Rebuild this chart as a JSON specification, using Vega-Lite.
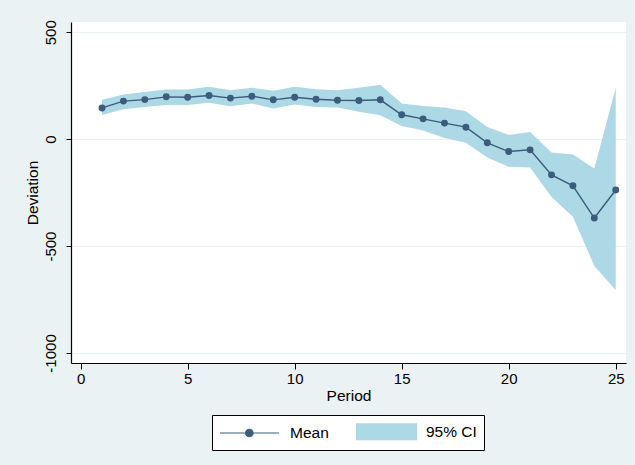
{
  "$schema": "https://vega.github.io/schema/vega-lite/v6.json",
  "width": 555,
  "height": 341,
  "autosize": {"type": "none"},
  "padding": {"left": 71, "top": 22, "right": 9, "bottom": 102},
  "background": "#EAF2F3",
  "data": {
    "values": [
      {"period": 1, "mean": 146, "lo": 113, "hi": 184, "series": "95% CI"},
      {"period": 2, "mean": 178, "lo": 140, "hi": 209, "series": "95% CI"},
      {"period": 3, "mean": 185, "lo": 151, "hi": 220, "series": "95% CI"},
      {"period": 4, "mean": 198, "lo": 160, "hi": 232, "series": "95% CI"},
      {"period": 5, "mean": 196, "lo": 160, "hi": 232, "series": "95% CI"},
      {"period": 6, "mean": 204, "lo": 170, "hi": 245, "series": "95% CI"},
      {"period": 7, "mean": 192, "lo": 154, "hi": 229, "series": "95% CI"},
      {"period": 8, "mean": 201, "lo": 167, "hi": 241, "series": "95% CI"},
      {"period": 9, "mean": 184, "lo": 143, "hi": 226, "series": "95% CI"},
      {"period": 10, "mean": 196, "lo": 162, "hi": 245, "series": "95% CI"},
      {"period": 11, "mean": 187, "lo": 151, "hi": 234, "series": "95% CI"},
      {"period": 12, "mean": 182, "lo": 148, "hi": 229, "series": "95% CI"},
      {"period": 13, "mean": 181, "lo": 128, "hi": 241, "series": "95% CI"},
      {"period": 14, "mean": 184, "lo": 112, "hi": 254, "series": "95% CI"},
      {"period": 15, "mean": 114, "lo": 62, "hi": 167, "series": "95% CI"},
      {"period": 16, "mean": 95, "lo": 40, "hi": 155, "series": "95% CI"},
      {"period": 17, "mean": 75, "lo": 6, "hi": 148, "series": "95% CI"},
      {"period": 18, "mean": 56, "lo": -17, "hi": 131, "series": "95% CI"},
      {"period": 19, "mean": -17, "lo": -86, "hi": 57, "series": "95% CI"},
      {"period": 20, "mean": -58, "lo": -129, "hi": 19, "series": "95% CI"},
      {"period": 21, "mean": -50, "lo": -132, "hi": 34, "series": "95% CI"},
      {"period": 22, "mean": -167, "lo": -270, "hi": -62, "series": "95% CI"},
      {"period": 23, "mean": -218, "lo": -363, "hi": -72, "series": "95% CI"},
      {"period": 24, "mean": -369, "lo": -593, "hi": -137, "series": "95% CI"},
      {"period": 25, "mean": -238, "lo": -706, "hi": 241, "series": "95% CI"}
    ]
  },
  "encoding": {
    "x": {
      "field": "period",
      "type": "quantitative",
      "scale": {"domain": [-0.45, 25.48], "nice": false, "zero": false},
      "axis": {
        "title": "Period",
        "values": [0, 5, 10, 15, 20, 25],
        "grid": false,
        "tickSize": 6,
        "labelPadding": 2,
        "titlePadding": 2
      }
    }
  },
  "layer": [
    {
      "mark": {"type": "area", "opacity": 1, "fill": "#ADD8E6"},
      "encoding": {
        "y": {
          "field": "lo",
          "type": "quantitative",
          "scale": {"domain": [-1047, 548], "nice": false, "zero": false},
          "axis": {
            "title": "Deviation",
            "values": [-1000, -500, 0, 500],
            "labelExpr": "'' + datum.value",
            "grid": true,
            "gridColor": "#EAF2F3",
            "gridWidth": 1,
            "tickSize": 5,
            "labelAngle": -90,
            "labelAlign": "center",
            "labelBaseline": "bottom",
            "labelPadding": 8,
            "titlePadding": 3
          }
        },
        "y2": {"field": "hi"}
      }
    },
    {
      "mark": {"type": "rule", "color": "black", "strokeWidth": 1.3},
      "encoding": {"y": {"datum": 0}}
    },
    {
      "mark": {
        "type": "line",
        "color": "#3B5D7B",
        "strokeWidth": 1.4,
        "point": {"filled": true, "size": 48, "color": "#3B5D7B", "opacity": 1}
      },
      "encoding": {"y": {"field": "mean", "type": "quantitative"}}
    },
    {
      "mark": {"type": "point", "filled": true, "opacity": 0, "size": 289, "strokeWidth": 1.2},
      "encoding": {
        "y": {"field": "mean", "type": "quantitative"},
        "fill": {
          "field": "series",
          "type": "nominal",
          "scale": {"domain": ["Mean", "95% CI"], "range": ["#3B5D7B", "#ADD8E6"]},
          "legend": {
            "title": null,
            "orient": "none",
            "legendX": 141,
            "legendY": 393,
            "direction": "horizontal",
            "columns": 2,
            "columnPadding": 24,
            "padding": 7,
            "strokeColor": "black",
            "fillColor": "white",
            "symbolSize": 289,
            "symbolOpacity": 1,
            "symbolStrokeWidth": 1.2,
            "labelOffset": 52,
            "labelFont": "Liberation Sans",
            "labelFontSize": 15.5,
            "labelColor": "black",
            "labelLimit": 200
          }
        },
        "stroke": {
          "field": "series",
          "type": "nominal",
          "scale": {"domain": ["Mean", "95% CI"], "range": ["#3B5D7B", "transparent"]},
          "legend": {
            "title": null,
            "orient": "none",
            "legendX": 141,
            "legendY": 393,
            "direction": "horizontal",
            "columns": 2,
            "columnPadding": 24,
            "padding": 7,
            "strokeColor": "black",
            "fillColor": "white",
            "symbolSize": 289,
            "symbolOpacity": 1,
            "symbolStrokeWidth": 1.2,
            "labelOffset": 52,
            "labelFont": "Liberation Sans",
            "labelFontSize": 15.5,
            "labelColor": "black",
            "labelLimit": 200
          }
        },
        "shape": {
          "field": "series",
          "type": "nominal",
          "scale": {
            "domain": ["Mean", "95% CI"],
            "range": [
              "M-1,0H5.94M2.01,0A0.44,0.44 0 1 0 2.89,0A0.44,0.44 0 1 0 2.01,0Z",
              "M-1,-1H6.2V1H-1Z"
            ]
          },
          "legend": {
            "title": null,
            "orient": "none",
            "legendX": 141,
            "legendY": 393,
            "direction": "horizontal",
            "columns": 2,
            "columnPadding": 24,
            "padding": 7,
            "strokeColor": "black",
            "fillColor": "white",
            "symbolSize": 289,
            "symbolOpacity": 1,
            "symbolStrokeWidth": 1.2,
            "labelOffset": 52,
            "labelFont": "Liberation Sans",
            "labelFontSize": 15.5,
            "labelColor": "black",
            "labelLimit": 200
          }
        }
      }
    }
  ],
  "config": {
    "view": {"stroke": null, "fill": "white"},
    "axis": {
      "labelFont": "Liberation Sans",
      "titleFont": "Liberation Sans",
      "labelFontSize": 15,
      "titleFontSize": 15.5,
      "titleFontWeight": "normal",
      "labelColor": "black",
      "titleColor": "black",
      "domainColor": "black",
      "domainWidth": 1.2,
      "tickColor": "black",
      "tickWidth": 1
    }
  }
}
